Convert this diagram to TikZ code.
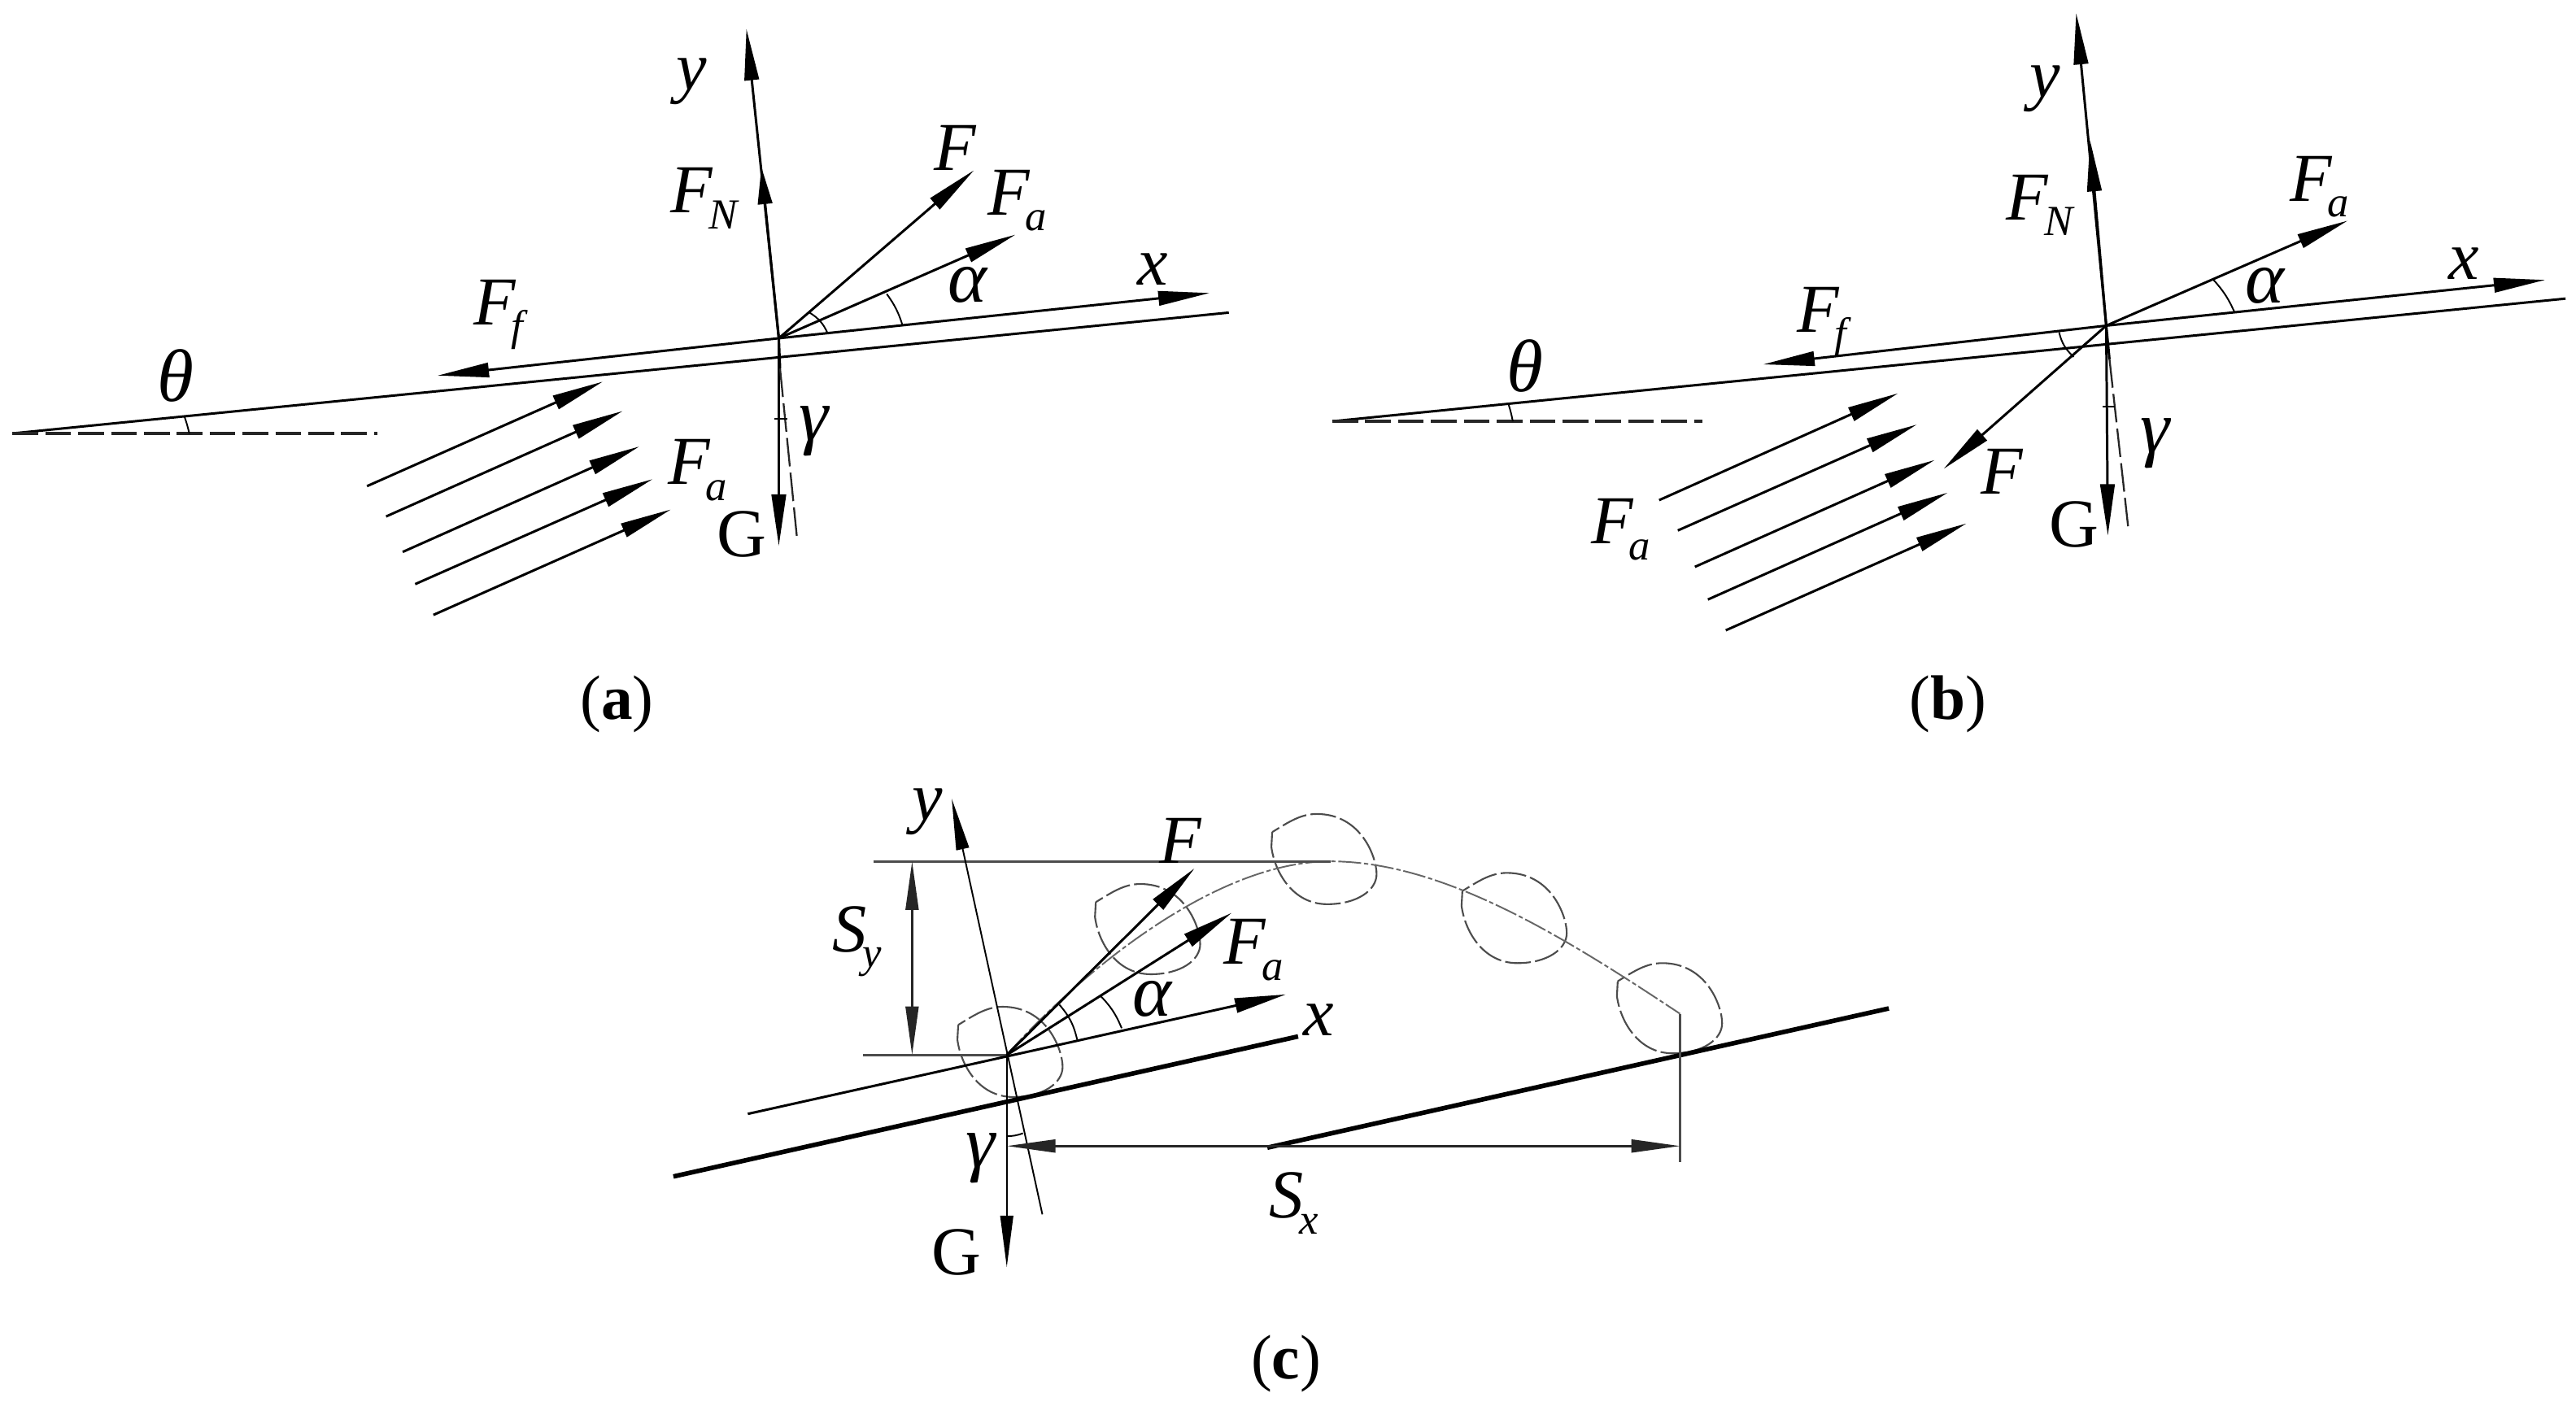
\documentclass[tikz,border=0pt]{standalone}
\usepackage{fontspec}
\setmainfont{Liberation Serif}
\usetikzlibrary{arrows.meta}
\newcommand{\lab}[1]{\kern-1.5pt\raisebox{-5.5pt}{\fontsize{15}{15}\selectfont #1}}
\newcommand{\egg}[2]{\draw[eggline,shift={(#1,#2)}] (-65,-66) -- (-66,-30) .. controls (-62,30) and (-40,109) .. (3,109) .. controls (40,109) and (64,75) .. (64,36) .. controls (64,-5) and (45,-110) .. (-10,-110) .. controls (-30,-110) and (-45,-90) .. cycle;}
\tikzset{
  txt/.style={inner sep=0pt,font=\fontsize{24}{24}\selectfont\itshape},
  grk/.style={inner sep=0pt,font=\fontsize{26}{26}\selectfont\itshape},
  upr/.style={inner sep=0pt,font=\fontsize{24}{24}\selectfont},
  captxt/.style={inner sep=0pt,font=\fontsize{22}{22}\selectfont},
  ln/.style={line width=0.85pt,black},
  thin line/.style={line width=0.55pt,black},
  heavy/.style={line width=1.6pt,black},
  vec/.style={line width=0.85pt,black,-{Triangle[length=18pt,width=5pt]}},
  vecs/.style={line width=0.85pt,black,-{Triangle[length=13pt,width=5pt]}},
  dash1/.style={line width=0.9pt,black!85,dash pattern=on 9pt off 2.5pt},
  dash2/.style={line width=0.65pt,black!85,dash pattern=on 10pt off 2.2pt},
  eggline/.style={line width=0.6pt,black!70,dash pattern=on 9pt off 1.5pt},
  traj/.style={line width=0.55pt,black!60,dash pattern=on 8pt off 1pt on 1.5pt off 1pt},
  dim/.style={line width=0.85pt,black!70},
  dimv/.style={line width=0.75pt,black!85,{Triangle[length=17pt,width=4.5pt]}-{Triangle[length=17pt,width=4.5pt]}},
}
\begin{document}
\begin{tikzpicture}
\useasboundingbox (0,0) rectangle (31.67,-17.24);
\fill[white] (0,0) rectangle (31.67,-17.24);
% ---------- panel a
\begin{scope}[x=0.010204cm,y=-0.00574cm]
\coordinate (aO) at (938,725);
\draw[ln] (15,929) -- (1480,670);
\draw[dash1] (15,929) -- (455,929);
\draw[thin line] (222,892) to[bend left=3] (228,929);
\draw[vec] (aO) -- (899,62);
\draw[vecs] (aO) -- (917,358);
\draw[vec] (aO) -- (1457,628);
\draw[vec] (aO) -- (527,805);
\draw[vec] (aO) -- (1173,365);
\draw[vec] (aO) -- (1223,503);
\draw[thin line] (1087,697) to[bend right=9] (1068,630);
\draw[thin line] (997,715) to[bend right=17] (975,670);
\draw[vec] (aO) -- (938,1170);
\draw[ln] (aO) -- (939.5,790);
\draw[dash2] (939.5,790) -- (960,1155);
\draw[thin line] (933,897) -- (948,897);
\foreach \xa/\ya/\xb/\yb in {442/1042/726/818,465/1107/750/881,485/1183/770/957,500/1252/786/1027,522/1318/808/1092}
  \draw[vec] (\xa,\ya) -- (\xb,\yb);
\node[txt] (ay) at (833,175) {y};
\node[txt] (aF) at (1150,317) {F};
\node[txt] (aFa) at (1225,430) {F\lab{a}};
\node[txt] (aFN) at (848,425) {F\lab{N}};
\node[grk] (aal) at (1165,610) {α};
\node[txt] (ax) at (1388,578) {x};
\node[txt] (aFf) at (600,675) {F\lab{f}};
\node[grk] (ath) at (212,805) {θ};
\node[txt] (aFa2) at (840,1008) {F\lab{a}};
\node[upr] (aG) at (893,1145) {G};
\node[grk] (agm) at (980,925) {γ};
\node[captxt] (acap) at (743,1510) {(\textbf{a})};
\end{scope}
% ---------- panel b
\begin{scope}[shift={(16cm,0cm)},x=0.01cm,y=-0.00574cm]
\coordinate (bO) at (990,698);
\draw[ln] (38,903) -- (1555,640);
\draw[dash1] (38,903) -- (493,903);
\draw[thin line] (255,868) to[bend left=3] (260,903);
\draw[vec] (bO) -- (953,28);
\draw[vec] (bO) -- (970,300);
\draw[vec] (bO) -- (1530,600);
\draw[vec] (bO) -- (568,781);
\draw[vec] (bO) -- (790,1005);
\draw[vec] (bO) -- (1287,473);
\draw[thin line] (1148,670) to[bend right=9] (1122,600);
\draw[thin line] (932,712) to[bend right=17] (950,765);
\draw[vec] (bO) -- (992,1148);
\draw[ln] (bO) -- (994,770);
\draw[dash2] (994,770) -- (1017,1130);
\draw[thin line] (986,872) -- (1001,872);
\foreach \xa/\ya/\xb/\yb in {440/1072/734/843,463/1137/757/910,484/1215/779/986,500/1285/795/1056,522/1351/818/1122}
  \draw[vec] (\xa,\ya) -- (\xb,\yb);
\node[txt] (by) at (915,190) {y};
\node[txt] (bFN) at (908,440) {F\lab{N}};
\node[txt] (bFa) at (1252,400) {F\lab{a}};
\node[grk] (bal) at (1185,612) {α};
\node[txt] (bx) at (1430,565) {x};
\node[txt] (bFf) at (640,690) {F\lab{f}};
\node[grk] (bth) at (275,785) {θ};
\node[txt] (bF) at (862,1010) {F};
\node[grk] (bgm) at (1050,950) {γ};
\node[upr] (bG) at (950,1125) {G};
\node[txt] (bFa2) at (393,1135) {F\lab{a}};
\node[captxt] (bcap) at (795,1510) {(\textbf{b})};
\end{scope}
% ---------- panel c
\begin{scope}[shift={(8cm,-9.3cm)},x=0.00995cm,y=-0.00506cm]
\coordinate (cO) at (440,725);
\egg{445}{718}\egg{615}{420}\egg{833}{250}\egg{1068}{393}\egg{1260}{612}
\draw[traj] (cO) .. controls (500,590) and (680,255) .. (840,255) .. controls (980,255) and (1130,440) .. (1272,625);
\draw[dim] (275,255) -- (840,255);
\draw[dim] (262,725) -- (cO);
\draw[dimv] (323,255) -- (323,725);
\draw[heavy] (28,1020) -- (800,680);
\draw[heavy] (762,950) -- (1530,612);
\draw[thin line,-{Triangle[length=18pt,width=4.5pt]}] (484,1112) -- (372,103);
\draw[ln,-{Triangle[length=18pt,width=5pt]}] (120,868) -- (785,578);
\draw[vec] (cO) -- (672,272);
\draw[vec] (cO) -- (718,380);
\draw[thin line] (582,660) to[bend right=11] (555,580);
\draw[thin line] (527,688) to[bend right=14] (505,603);
\draw[thin line,-{Triangle[length=18pt,width=4.5pt]}] (cO) -- (440,1240);
\draw[dim] (1272,625) -- (1272,985);
\draw[dimv] (440,946) -- (1272,946);
\draw[thin line] (440,922) to[bend right=10] (460,915);
\node[txt] (cy) at (342,135) {y};
\node[txt] (cF) at (655,205) {F};
\node[txt] (cFa) at (745,470) {F\lab{a}};
\node[grk] (cal) at (620,590) {α};
\node[txt] (cx) at (825,640) {x};
\node[txt] (cSy) at (255,450) {S\lab{y}};
\node[grk] (cgm) at (408,975) {γ};
\node[upr] (cG) at (378,1205) {G};
\node[txt] (cSx) at (795,1085) {S\lab{x}};
\node[captxt] (ccap) at (785,1475) {(\textbf{c})};
\end{scope}
\end{tikzpicture}
\end{document}
